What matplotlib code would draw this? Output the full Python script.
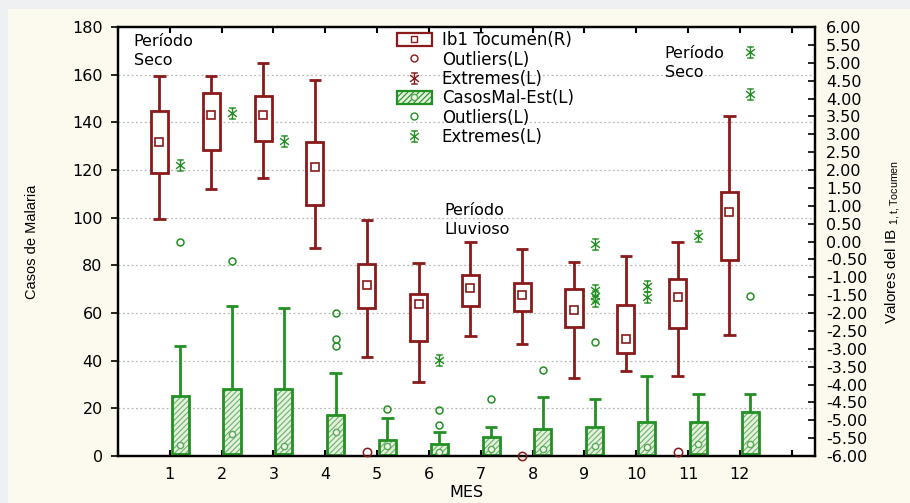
import matplotlib
matplotlib.use("Agg")
import matplotlib.pyplot as plt
import numpy as np
from matplotlib.lines import Line2D
from matplotlib.patches import Patch, Rectangle
from matplotlib.path import Path
from matplotlib.ticker import FormatStrFormatter, MultipleLocator

plt.rcParams['font.family'] = ['DejaVu Sans']
plt.rcParams['axes.unicode_minus'] = False
plt.rcParams['hatch.linewidth'] = 0.8
NARROW = ['Liberation Sans Narrow', 'Liberation Sans', 'DejaVu Sans']

# --- data ---
months = np.arange(1, 13)

# Ib1 Tocumen (right axis)
ib_whis_hi = [4.63, 4.63, 5.00, 4.52, 0.59, -0.61, -0.01, -0.21, -0.57, -0.41, -0.02, 3.52]
ib_q3 = [3.66, 4.14, 4.06, 2.79, -0.64, -1.46, -0.94, -1.16, -1.32, -1.79, -1.05, 1.38]
ib_med = [2.77, 3.53, 3.53, 2.09, -1.21, -1.74, -1.29, -1.49, -1.91, -2.72, -1.54, 0.82]
ib_q1 = [1.91, 2.55, 2.81, 1.03, -1.85, -2.77, -1.81, -1.95, -2.38, -3.11, -2.43, -0.52]
ib_whis_lo = [0.62, 1.48, 1.78, -0.19, -3.24, -3.94, -2.63, -2.87, -3.82, -3.61, -3.77, -2.61]
ib_out_x = [5, 8, 11]
ib_out_y = [-5.9, -6.0, -5.9]

# CasosMal-Est (left axis)
casos_whis_hi = [46.0, 63.1, 62.1, 34.8, 16.1, 9.9, 12.0, 24.9, 23.9, 33.7, 25.9, 25.9]
casos_q3 = [25.2, 28.1, 28.1, 17.2, 6.8, 4.9, 8.0, 11.5, 12.3, 14.1, 14.1, 18.3]
casos_med = [4.6, 9.1, 4.2, 9.9, 4.2, 1.8, 3.1, 3.1, 4.3, 3.9, 4.9, 4.9]
casos_q1 = [1.0, 1.0, 1.0, 0.5, 0.5, 0.5, 0.5, 0.5, 0.5, 0.5, 0.8, 1.0]
casos_out_x = [1, 2, 4, 4, 4, 5, 6, 6, 7, 8, 9, 12]
casos_out_y = [89.9, 81.8, 59.9, 49.0, 46.2, 19.7, 19.2, 13.2, 23.9, 36.0, 47.8, 67.0]
casos_ext_x = [1, 2, 3, 6, 9, 9, 9, 9, 10, 10, 11, 12, 12]
casos_ext_y = [121.9, 144.1, 132.0, 40.1, 89.0, 69.5, 67.0, 65.0, 71.3, 66.8, 92.3, 169.7, 151.9]

RED = '#8b1a1a'
GREEN = '#239023'

# statistica-like "extreme" asterisk
star = Path(
    [(0, -1), (0, 1), (-0.8, -0.6), (0.8, 0.6), (-0.8, 0.6), (0.8, -0.6),
     (-0.6, 1), (0.6, 1), (-0.6, -1), (0.6, -1)],
    [Path.MOVETO, Path.LINETO] * 5)

fig = plt.figure(figsize=(9.1, 5.03), dpi=100, facecolor='#eff0f2')
fig.patches.append(Rectangle((8 / 910, 0), 1, 1 - 9 / 503, transform=fig.transFigure,
                             facecolor='#fcf9ef', edgecolor='none', zorder=-10))
ax = fig.add_axes([118 / 910, 1 - 456 / 503, 697 / 910, 429 / 503])
ax2 = ax.twinx()

off_r, off_g, w = -0.2, 0.2, 0.33
xr = months + off_r
xg = months + off_g

# green: hatched boxes on left axis
ax.bar(xg, np.array(casos_q3) - np.array(casos_q1), bottom=casos_q1, width=w,
       facecolor='#e4f1dc', edgecolor='#6cb36c', hatch='//////', linewidth=0, zorder=2)
ax.bar(xg, np.array(casos_q3) - np.array(casos_q1), bottom=casos_q1, width=w,
       facecolor='none', edgecolor=GREEN, linewidth=2, zorder=3)
ax.vlines(xg, casos_q3, casos_whis_hi, color=GREEN, lw=2, zorder=3)
ax.hlines(casos_whis_hi, xg - 0.12, xg + 0.12, color=GREEN, lw=2, zorder=3)
ax.plot(xg, casos_med, 'o', ms=4.5, mfc='#eef6e8', mec='#5aa85a', mew=1, zorder=4)
ax.plot(np.array(casos_out_x) + off_g, casos_out_y, 'o', ms=5, mfc='none', mec=GREEN, mew=1.1, zorder=4)
ax.plot(np.array(casos_ext_x) + off_g, casos_ext_y, ls='none', marker=star, ms=8, mec=GREEN, mew=1, zorder=4)

# red: open boxes on right axis
ax2.bar(xr, np.array(ib_q3) - np.array(ib_q1), bottom=ib_q1, width=w,
        facecolor='white', edgecolor=RED, linewidth=2, zorder=3)
ax2.vlines(xr, ib_q3, ib_whis_hi, color=RED, lw=2, zorder=2)
ax2.vlines(xr, ib_whis_lo, ib_q1, color=RED, lw=2, zorder=2)
ax2.hlines(ib_whis_hi, xr - 0.12, xr + 0.12, color=RED, lw=2, zorder=2)
ax2.hlines(ib_whis_lo, xr - 0.12, xr + 0.12, color=RED, lw=2, zorder=2)
ax2.plot(xr, ib_med, 's', ms=6, mfc='white', mec=RED, mew=1.2, zorder=4)
ax2.plot(np.array(ib_out_x) + off_r, ib_out_y, 'o', ms=6, mfc='none', mec=RED, mew=1.1,
         zorder=4, clip_on=False)

# axes
ax.set_xlim(0, 13.45)
ax.set_ylim(0, 180)
ax2.set_ylim(-6, 6)
ax.set_xticks(np.arange(0, 14))
ax.set_xticklabels([''] + [str(m) for m in months] + [''])
ax.yaxis.set_major_locator(MultipleLocator(20))
ax2.yaxis.set_major_locator(MultipleLocator(0.5))
ax2.yaxis.set_major_formatter(FormatStrFormatter('%.2f'))
ax.grid(axis='y', color='#b8b8b8', linestyle=(0, (1.5, 2)), lw=0.9)
ax.set_axisbelow(True)
for a in (ax, ax2):
    for s in a.spines.values():
        s.set_linewidth(1.6)
ax.tick_params(axis='x', direction='in', top=True, length=4, width=1.5, labelsize=11.5, pad=8)
ax.tick_params(axis='y', direction='out', length=5, width=1.2, labelsize=11.5, pad=6)
ax2.tick_params(axis='y', direction='in', length=5, width=1.2, labelsize=11.5, pad=8)

ax.set_ylabel('Casos de Malaria', fontsize=10.5, labelpad=24, family=NARROW)
ax2.set_ylabel(r'Valores del IB $_{\mathregular{1,t,Tocumen}}$', fontsize=11, labelpad=12,
               family=NARROW)
ax.set_xlabel('MES', fontsize=11.5, labelpad=2)

# period annotations
ax.text(0.3, 177, 'Período\nSeco', fontsize=11.5, va='top', linespacing=1.3)
ax.text(6.3, 106, 'Período\nLluvioso', fontsize=11.5, va='top', linespacing=1.3)
ax.text(10.55, 172, 'Período\nSeco', fontsize=11.5, va='top', linespacing=1.3)

# legend
handles = [
    (Patch(facecolor='white', edgecolor=RED, lw=1.6),
     Line2D([], [], ls='none', marker='s', ms=5, mfc='white', mec=RED)),
    Line2D([], [], ls='none', marker='o', ms=5, mfc='none', mec=RED),
    Line2D([], [], ls='none', marker=star, ms=8, mec=RED),
    (Patch(facecolor='#e4f1dc', edgecolor=GREEN, hatch='//////', lw=1.6),
     Line2D([], [], ls='none', marker='o', ms=4.5, mfc='#eef6e8', mec='#5aa85a')),
    Line2D([], [], ls='none', marker='o', ms=5, mfc='none', mec=GREEN),
    Line2D([], [], ls='none', marker=star, ms=8, mec=GREEN),
]
labels = ['Ib1 Tocumen(R)', 'Outliers(L)', 'Extremes(L)', 'CasosMal-Est(L)',
          'Outliers(L)', 'Extremes(L)']
leg = ax2.legend(handles, labels, loc='upper left', bbox_to_anchor=(0.400, 0.99),
                 frameon=False, fontsize=12, handlelength=2.1, handleheight=0.85,
                 handletextpad=0.6, labelspacing=0.08, borderpad=0, borderaxespad=0)
leg.set_zorder(10)

fig.savefig('out.png', dpi=100, facecolor=fig.get_facecolor())
